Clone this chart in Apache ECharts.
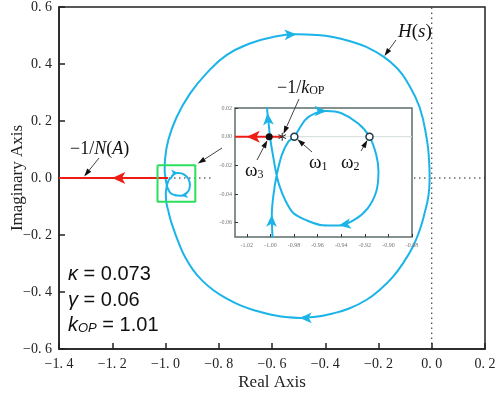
<!DOCTYPE html>
<html><head><meta charset="utf-8">
<script src="https://cdn.jsdelivr.net/npm/echarts@6/dist/echarts.min.js"></script>
<style>html,body{margin:0;padding:0;background:#fff}#c{width:498px;height:395px}</style>
</head><body><div id="c"></div>
<script>
// ---- data ----
const curveRe = [-0.008,-0.012,-0.027,-0.046,-0.071,-0.105,-0.146,-0.195,-0.246,-0.308,-0.371,-0.435,-0.496,-0.55,-0.596,-0.66,-0.721,-0.775,-0.821,-0.862,-0.896,-0.925,-0.946,-0.977,-0.991,-0.997,
 -0.9983,-0.9988,-0.9974,-0.9946,-0.9903,-0.9848,-0.9797,-0.9707,-0.9623,-0.9524,-0.9398,-0.9258,-0.916,-0.9103,-0.9084,-0.9103,-0.9174,-0.9286,-0.942,-0.956,-0.969,-0.9806,-0.9876,-0.9926,-0.9952,-0.9974,-1.0002,-1.0016,-1.0025,-1.003,-1.003,-1.002,
 -0.9895,-0.958,-0.908,-0.846,-0.771,-0.683,-0.596,-0.508,-0.435,-0.371,-0.30,-0.246,-0.18,-0.13,-0.096,-0.046,-0.018,-0.01,-0.008];
const curveIm = [0.0,-0.06,-0.124,-0.185,-0.241,-0.295,-0.347,-0.392,-0.428,-0.457,-0.475,-0.487,-0.491,-0.488,-0.481,-0.466,-0.446,-0.421,-0.393,-0.36,-0.323,-0.28,-0.238,-0.159,-0.11,-0.085,
 -0.0684,-0.0545,-0.0406,-0.0266,-0.0127,-0.0035,0.0,0.0116,0.0163,0.0179,0.0163,0.0093,0.0,-0.0127,-0.0243,-0.0383,-0.0498,-0.0579,-0.062,-0.0618,-0.0585,-0.0533,-0.044,-0.0336,-0.025,-0.015,-0.0011,0.0104,0.0165,0.024,0.04,0.062,
 0.133,0.214,0.296,0.367,0.431,0.472,0.495,0.504,0.502,0.495,0.478,0.46,0.425,0.385,0.343,0.249,0.133,0.06,0.0];
const mainArrowIdx = [65, 12];
const loopArrowIdx = [35, 44];
const strandArrowIdx = [27, 54];
const naRe = [-1.4, -0.99];      // -1/N(A) locus
const naIm = [0, 0];
const naArrowRe = [-1.2, -1.02]; // arrow on main / inset
const omegaRe = [-0.9797, -0.916];
const omegaIm = [0, 0];
const omega3 = [-1.001, 0];
const kopPoint = [-0.990, 0];
const zoomBoxRe = [-1.03, -0.888];
const zoomBoxIm = [-0.083, 0.045];
const zeroRe = [-1.4, 0.2];
const zeroIm = [-0.6, 0.6];
const insetXTicks = [-1.02,-1.00,-0.98,-0.96,-0.94,-0.92,-0.90,-0.88];
const insetYTicks = [-0.06,-0.04,-0.02,0,0.02];
const paramLines = [['κ','','0.073'],['γ','','0.06'],['k','OP','1.01']];

// ---- chart ----
const chart = echarts.init(document.getElementById('c'), null, {renderer:'canvas'});
const C = curveRe.map((x,i)=>[x, curveIm[i]]);
const cyan = '#1cb4e8', red = '#ee1c14';
const serif = '"Liberation Serif","DejaVu Serif",serif';
const sans = '"Liberation Sans","DejaVu Sans",sans-serif';
const fmtMain = v => (v < -1e-9 ? '\u2212' : '') + Math.abs(v).toFixed(1).replace('.', '. ');

function build(rot, graphics) {
  const arrowItems = (idxs, size, r) => idxs.map(i => ({value: C[i], symbolRotate: r[i] || 0, symbolSize: size}));
  return {
    animation: false,
    grid: [
      {left:59, right:13, top:7, bottom:46, outerBoundsMode:'none', containLabel:false, show:true, borderColor:'#222', borderWidth:1.5, z:0},
      {left:235, top:108, width:177, height:129, outerBoundsMode:'none', containLabel:false, show:true, borderColor:'#5d6e6e', borderWidth:1.5, backgroundColor:'#fff', z:6}
    ],
    xAxis: [
      {gridIndex:0, type:'value', min:-1.4, max:0.2, interval:0.2,
       axisLine:{onZero:false, lineStyle:{color:'#222', width:1.5}},
       axisTick:{inside:true, length:6, lineStyle:{color:'#222', width:1.5}},
       axisLabel:{formatter:fmtMain, fontFamily:serif, fontSize:14, color:'#222', margin:8},
       splitLine:{show:false},
       name:'Real Axis', nameLocation:'middle', nameGap:25, nameMoveOverlap:false,
       nameTextStyle:{fontFamily:serif, fontSize:17, color:'#222'}},
      {gridIndex:1, type:'value', min:-1.03, max:-0.88, z:6,
       axisLine:{show:false, onZero:false},
       axisTick:{inside:true, length:3, customValues:insetXTicks, lineStyle:{color:'#333'}},
       axisLabel:{customValues:insetXTicks, formatter:v=>v.toFixed(2), fontFamily:serif, fontSize:6, color:'#777', margin:5},
       splitLine:{show:false}}
    ],
    yAxis: [
      {gridIndex:0, type:'value', min:-0.6, max:0.6, interval:0.2,
       axisLine:{onZero:false, lineStyle:{color:'#222', width:1.5}},
       axisTick:{inside:true, length:6, lineStyle:{color:'#222', width:1.5}},
       axisLabel:{formatter:fmtMain, fontFamily:serif, fontSize:14, color:'#222', margin:7},
       splitLine:{show:false},
       name:'Imaginary Axis', nameLocation:'middle', nameGap:33, nameRotate:90, nameMoveOverlap:false,
       nameTextStyle:{fontFamily:serif, fontSize:17, color:'#222'}},
      {gridIndex:1, type:'value', min:-0.07, max:0.02, z:6,
       axisLine:{show:false, onZero:false},
       axisTick:{inside:true, length:3, customValues:insetYTicks, lineStyle:{color:'#333'}},
       axisLabel:{customValues:insetYTicks, formatter:v=>v.toFixed(2), fontFamily:serif, fontSize:6, color:'#777', margin:3},
       splitLine:{show:false}}
    ],
    series: [
      {type:'line', xAxisIndex:0, yAxisIndex:0, z:1, symbol:'none', silent:true,
       data:[[zeroRe[0],0],[zeroRe[1],0]], lineStyle:{color:'#222', width:1, type:[1.5,3.5]}},
      {type:'line', xAxisIndex:0, yAxisIndex:0, z:1, symbol:'none', silent:true,
       data:[[0,zeroIm[0]],[0,zeroIm[1]]], lineStyle:{color:'#222', width:1, type:[1.5,3.5]}},
      {type:'line', xAxisIndex:0, yAxisIndex:0, z:3, symbol:'none', smooth:0.45,
       data:C, lineStyle:{color:cyan, width:2}},
      {type:'line', xAxisIndex:0, yAxisIndex:0, z:3, symbol:'none',
       data:naRe.map((x,i)=>[x,naIm[i]]), lineStyle:{color:red, width:2}},
      {type:'line', xAxisIndex:0, yAxisIndex:0, z:4, symbol:'none',
       data:[[zoomBoxRe[0],zoomBoxIm[1]],[zoomBoxRe[1],zoomBoxIm[1]],[zoomBoxRe[1],zoomBoxIm[0]],[zoomBoxRe[0],zoomBoxIm[0]],[zoomBoxRe[0],zoomBoxIm[1]]],
       lineStyle:{color:'#2be05c', width:2}},
      {type:'scatter', xAxisIndex:0, yAxisIndex:0, z:4, symbol:'arrow',
       data: arrowItems(mainArrowIdx,[8,12],rot.c).concat(arrowItems(loopArrowIdx,[5,7],rot.c)), itemStyle:{color:cyan, opacity:1}},
      {type:'scatter', xAxisIndex:0, yAxisIndex:0, z:4, symbol:'arrow',
       data:[{value:[naArrowRe[0],0], symbolRotate:90}], symbolSize:[9,13], itemStyle:{color:red, opacity:1}},
      // inset
      {type:'line', xAxisIndex:1, yAxisIndex:1, z:7, symbol:'none',
       data:[[-1.03,0],[-0.88,0]], lineStyle:{color:'#d4dcdc', width:1}},
      {type:'line', xAxisIndex:1, yAxisIndex:1, z:8, symbol:'none', smooth:0.3,
       data:C, lineStyle:{color:cyan, width:2}},
      {type:'line', xAxisIndex:1, yAxisIndex:1, z:8, symbol:'none',
       data:[[-1.03,0],[kopPoint[0],0]], lineStyle:{color:red, width:2}},
      {type:'scatter', xAxisIndex:1, yAxisIndex:1, z:9, symbol:'arrow',
       data: arrowItems(loopArrowIdx.concat(strandArrowIdx),[8,12],rot.i), itemStyle:{color:cyan, opacity:1}},
      {type:'scatter', xAxisIndex:1, yAxisIndex:1, z:9, symbol:'arrow',
       data:[{value:[naArrowRe[1],0], symbolRotate:90}], symbolSize:[9,13], itemStyle:{color:red, opacity:1}},
      {type:'scatter', xAxisIndex:1, yAxisIndex:1, z:10, symbol:'circle', symbolSize:7,
       data:omegaRe.map((x,i)=>[x,omegaIm[i]]), itemStyle:{color:'#fff', borderColor:'#1d3a48', borderWidth:1.5, opacity:1}},
      {type:'scatter', xAxisIndex:1, yAxisIndex:1, z:10, symbol:'circle', symbolSize:7,
       data:[omega3], itemStyle:{color:'#111', opacity:1}},
      {type:'scatter', xAxisIndex:1, yAxisIndex:1, z:10,
       symbol:'path://M-0.12,-1L0.12,-1L0.12,1L-0.12,1ZM0.806,0.604L0.926,0.396L-0.806,-0.604L-0.926,-0.396ZM-0.926,0.396L-0.806,0.604L0.926,-0.396L0.806,-0.604Z',
       symbolSize:8, data:[kopPoint], itemStyle:{color:'#222', opacity:1}}
    ],
    graphic: graphics
  };
}

chart.setOption(build({c:{}, i:{}}, []));

// rotations of direction arrows from neighbouring curve points, in pixel space
const p0 = p => chart.convertToPixel({gridIndex:0}, p);
const p1 = p => chart.convertToPixel({gridIndex:1}, p);
function rotAt(conv, i){ const a = conv(C[i-1]), b = conv(C[i+1]); return Math.atan2(-(b[1]-a[1]), b[0]-a[0])*180/Math.PI - 90; }
const rot = {c:{}, i:{}};
mainArrowIdx.concat(loopArrowIdx).forEach(i => rot.c[i] = rotAt(p0, i));
loopArrowIdx.concat(strandArrowIdx).forEach(i => rot.i[i] = rotAt(p1, i));

function arrowEl(tail, P, gap){
  const dx = tail[0]-P[0], dy = tail[1]-P[1], L = Math.hypot(dx,dy), ux = dx/L, uy = dy/L;
  const tip = [P[0]+ux*gap, P[1]+uy*gap], hl = 8, hw = 2.6;
  const base = [tip[0]+ux*hl, tip[1]+uy*hl], nx = -uy, ny = ux;
  return [
    {type:'line', z:20, shape:{x1:tail[0], y1:tail[1], x2:base[0], y2:base[1]}, style:{stroke:'#444', lineWidth:1}},
    {type:'polygon', z:20, shape:{points:[tip,[base[0]+nx*hw, base[1]+ny*hw],[base[0]-nx*hw, base[1]-ny*hw]]}, style:{fill:'#111'}}
  ];
}
function txt(x, y, text, rich, fs, fam){
  return {type:'text', z:20, x:x, y:y, style:{text:text, rich:rich, fontSize:fs, fontFamily:fam, fill:'#111', align:'left', verticalAlign:'middle'}};
}
const it = {fontStyle:'italic', fontSize:19, fontFamily:serif, fill:'#111'};
const it18 = {fontStyle:'italic', fontSize:18, fontFamily:serif, fill:'#111'};
const sub12 = {fontSize:12, fontFamily:serif, fill:'#111', verticalAlign:'bottom', lineHeight:12};
const gIt = {fontStyle:'italic', fontSize:20, fontFamily:sans, fill:'#111'};
const gSub = {fontStyle:'italic', fontSize:13, fontFamily:sans, fill:'#111', verticalAlign:'bottom', lineHeight:13};

const G = [];
G.push({type:'rect', z:2, shape:{x:212, y:100, width:202, height:147}, style:{fill:'#fff'}});
G.push(...arrowEl([396,40], p0(C[70]), 1));
G.push(...arrowEl([299,99], p1(kopPoint), 3));
G.push(...arrowEl([99,158], p0([-1.31,0]), 2));
G.push(...arrowEl([222,148], p0([zoomBoxRe[1], zoomBoxIm[1]]), 3));
G.push(...arrowEl([312,152], p1([omegaRe[0],omegaIm[0]]), 4));
G.push(...arrowEl([361,151], p1([omegaRe[1],omegaIm[1]]), 4));
G.push(...arrowEl([257,160], p1(omega3), 4));
G.push(txt(398, 32, '{i|H}({i|s})', {i:it}, 19, serif));
G.push(txt(277, 88, '\u22121/{i|k}{s|OP}', {i:it18, s:sub12}, 18, serif));
G.push(txt(70, 149, '\u22121/{i|N}({i|A})', {i:it18}, 18, serif));
G.push(txt(309, 163, '\u03c9{s|1}', {s:sub12}, 19, serif));
G.push(txt(341, 163, '\u03c9{s|2}', {s:sub12}, 19, serif));
G.push(txt(245, 171, '\u03c9{s|3}', {s:sub12}, 19, serif));
const pY = [274, 300, 325];
paramLines.forEach((p, k) => {
  const t = '{g|' + p[0] + '}' + (p[1] ? '{gs|' + p[1] + '}' : '') + ' = ' + p[2];
  G.push(txt(68, pY[k], t, {g:gIt, gs:gSub}, 20, sans));
});

chart.setOption(build(rot, G), true);
</script></body></html>
